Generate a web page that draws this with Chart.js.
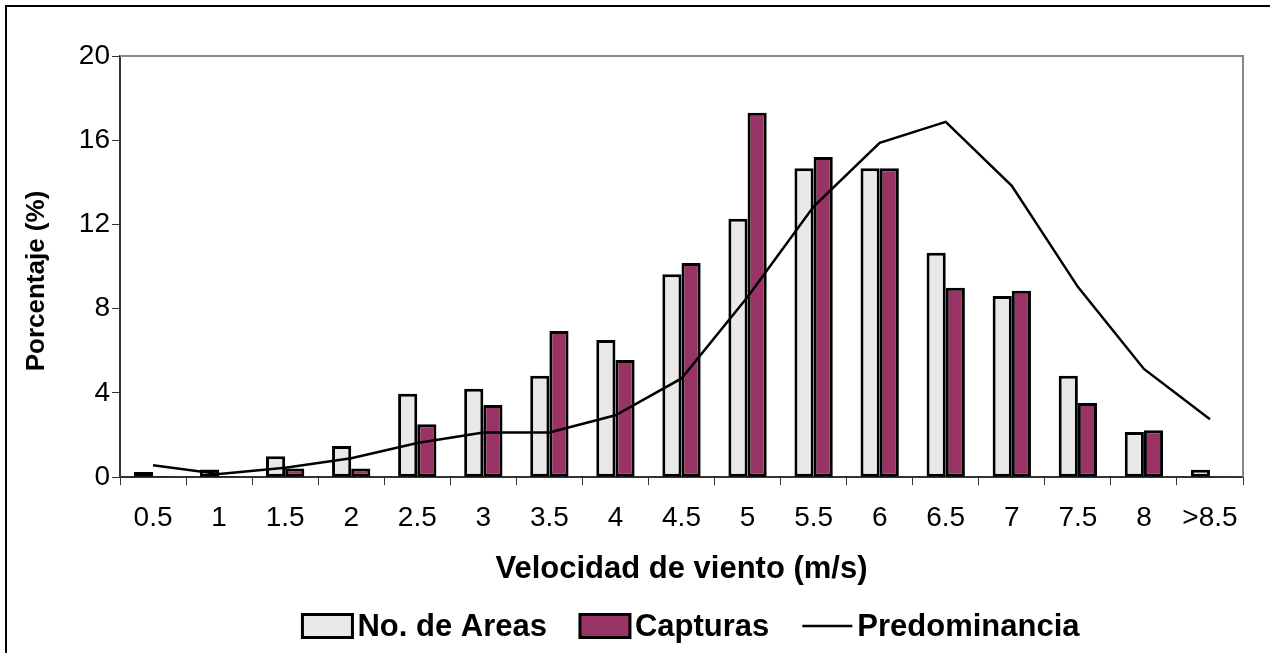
<!DOCTYPE html>
<html>
<head>
<meta charset="utf-8">
<title>Velocidad de viento</title>
<script src="https://cdn.jsdelivr.net/npm/chart.js@4.4.1/dist/chart.umd.min.js"></script>
<style>
  html, body { margin: 0; padding: 0; background: #fff; }
  #wrap { position: relative; width: 1276px; height: 653px; }
</style>
</head>
<body>
<div id="wrap"><canvas id="chart" width="1276" height="653"></canvas></div>
<script>
// wind speed classes (m/s)
var labels = ["0.5", "1", "1.5", "2", "2.5", "3", "3.5", "4", "4.5", "5", "5.5", "6", "6.5", "7", "7.5", "8", ">8.5"];
// percentages per class
var areas = [0.25, 0.37, 1.0, 1.48, 3.96, 4.2, 4.82, 6.52, 9.64, 12.27, 14.67, 14.67, 10.66, 8.6, 4.82, 2.15, 0.35];
var capturas = [0.05, 0.05, 0.41, 0.41, 2.52, 3.43, 6.94, 5.57, 10.17, 17.31, 15.2, 14.67, 8.99, 8.85, 3.52, 2.23, 0.03];
var predominancia = [0.57, 0.15, 0.45, 0.9, 1.62, 2.12, 2.12, 2.94, 4.69, 8.56, 12.85, 15.88, 16.87, 13.84, 9.04, 5.14, 2.75];
var yMax = 20;
var yStep = 4;
var yTitle = "Porcentaje (%)";
var xTitle = "Velocidad de viento (m/s)";

var FONT = "'Liberation Sans', Arial, sans-serif";

// outer frame + grey top/right border of the plot area
var frame = {
  id: "frame",
  beforeDatasetsDraw: function(chart) {
    var ctx = chart.ctx, a = chart.chartArea;
    ctx.save();
    ctx.strokeStyle = "#000";
    ctx.lineWidth = 2;
    ctx.beginPath();
    ctx.moveTo(6, 653);
    ctx.lineTo(6, 6);
    ctx.lineTo(1270, 6);
    ctx.stroke();
    ctx.strokeStyle = "#888";
    ctx.beginPath();
    ctx.moveTo(a.left, a.top);
    ctx.lineTo(a.right, a.top);
    ctx.lineTo(a.right, a.bottom);
    ctx.stroke();
    ctx.restore();
  }
};

// vertical axis title, sits a little below the plot's middle
var yTitleDraw = {
  id: "yTitleDraw",
  afterDraw: function(chart) {
    var ctx = chart.ctx;
    ctx.save();
    ctx.translate(37, 281);
    ctx.rotate(-Math.PI / 2);
    ctx.font = "bold 26px " + FONT;
    ctx.fillStyle = "#000";
    ctx.textAlign = "center";
    ctx.textBaseline = "middle";
    ctx.fillText(yTitle, 0, 0);
    ctx.restore();
  }
};

// legend row drawn under the axis title
var legendRow = {
  id: "legendRow",
  afterDraw: function(chart) {
    var ctx = chart.ctx;
    var ds = chart.data.datasets;
    var order = [1, 2, 0];
    var sw = 50, sh = 23, gap = 5, space = 33;
    ctx.save();
    ctx.font = "bold 31px " + FONT;
    var total = 0;
    order.forEach(function(i, k) {
      total += sw + gap + ctx.measureText(ds[i].label).width;
      if (k > 0) total += space;
    });
    var x = 691 - total / 2;
    var y = 626;
    order.forEach(function(i) {
      var d = ds[i];
      if (d.type === "line") {
        ctx.strokeStyle = d.borderColor;
        ctx.lineWidth = d.borderWidth;
        ctx.beginPath();
        ctx.moveTo(x, y);
        ctx.lineTo(x + sw, y);
        ctx.stroke();
      } else {
        ctx.fillStyle = d.backgroundColor;
        ctx.fillRect(x, y - sh / 2, sw, sh);
        ctx.strokeStyle = d.borderColor;
        ctx.lineWidth = 3;
        ctx.strokeRect(x, y - sh / 2, sw, sh);
      }
      x += sw + gap;
      ctx.fillStyle = "#000";
      ctx.textBaseline = "middle";
      ctx.fillText(d.label, x, y + 1);
      x += ctx.measureText(d.label).width + space;
    });
    ctx.restore();
  }
};

var ctx = document.getElementById("chart");

var chart = new Chart(ctx, {
  type: "bar",
  data: {
    labels: labels,
    datasets: [
      {
        type: "line",
        label: "Predominancia",
        data: predominancia,
        borderColor: "#000",
        backgroundColor: "#000",
        borderWidth: 2.5,
        pointRadius: 0,
        tension: 0,
        fill: false
      },
      {
        label: "No. de Areas",
        data: areas,
        backgroundColor: "#e9e9e9",
        borderColor: "#000",
        borderWidth: 3,
        borderSkipped: false
      },
      {
        label: "Capturas",
        data: capturas,
        backgroundColor: "#993366",
        borderColor: "#000",
        borderWidth: 3,
        borderSkipped: false
      }
    ]
  },
  options: {
    responsive: false,
    animation: false,
    datasets: {
      bar: { categoryPercentage: 0.58, barPercentage: 1.0 }
    },
    layout: {
      padding: { top: 56, right: 33, bottom: 50, left: 0 }
    },
    plugins: {
      legend: { display: false },
      tooltip: { enabled: false }
    },
    scales: {
      x: {
        offset: true,
        grid: {
          offset: true,
          drawOnChartArea: false,
          drawTicks: true,
          tickLength: 8,
          color: "#333"
        },
        border: { color: "#333", width: 2 },
        ticks: {
          font: { family: FONT, size: 28 },
          color: "#000",
          padding: 16,
          maxRotation: 0,
          autoSkip: false
        },
        title: {
          display: true,
          text: xTitle,
          font: { family: FONT, size: 31, weight: "bold" },
          color: "#000",
          padding: { top: 0, bottom: 15 }
        }
      },
      y: {
        min: 0,
        max: yMax,
        grid: {
          drawOnChartArea: false,
          drawTicks: true,
          tickLength: 8,
          color: "#333"
        },
        border: { color: "#333", width: 2 },
        ticks: {
          stepSize: yStep,
          font: { family: FONT, size: 28 },
          color: "#000",
          padding: 2
        },
        afterFit: function(scale) {
          scale.width = 120;
        }
      }
    }
  },
  plugins: [frame, yTitleDraw, legendRow]
});
</script>
</body>
</html>
